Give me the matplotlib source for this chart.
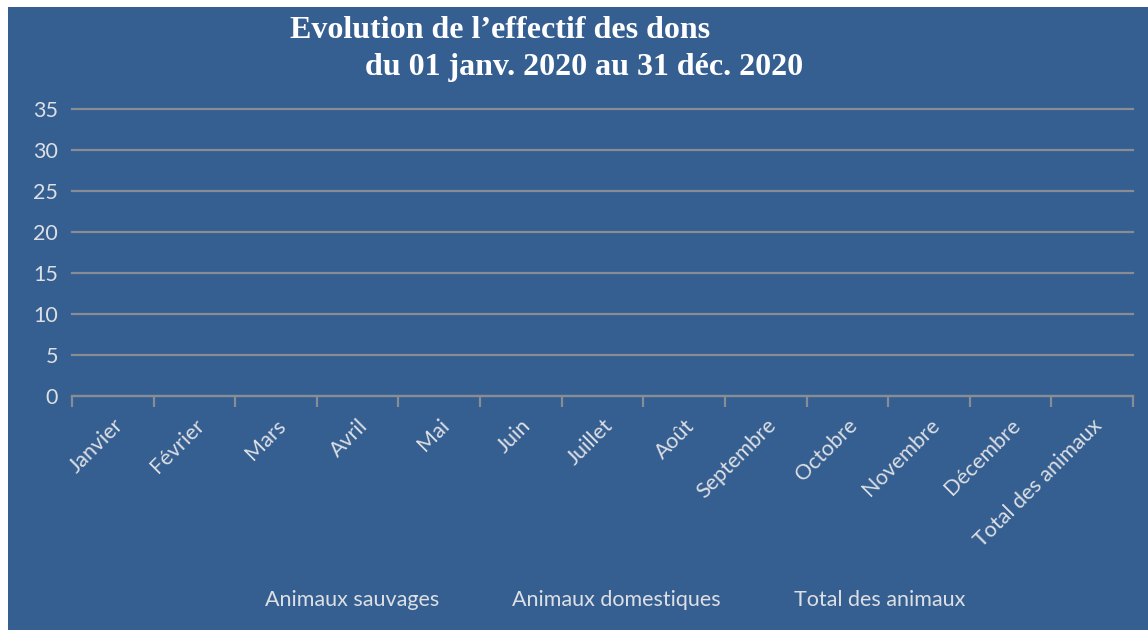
import numpy as np
import matplotlib
matplotlib.use("Agg")
import matplotlib.pyplot as plt
from matplotlib.patches import Rectangle
from matplotlib.lines import Line2D

categories = ["Janvier", "Février", "Mars", "Avril", "Mai", "Juin", "Juillet", "Août",
              "Septembre", "Octobre", "Novembre", "Décembre", "Total des animaux"]
series_names = ["Animaux sauvages", "Animaux domestiques", "Total des animaux"]
# No values are shown on the chart (empty series)
animaux_sauvages = [np.nan] * 13
animaux_domestiques = [np.nan] * 13
total_animaux = [np.nan] * 13
yticks = [0, 5, 10, 15, 20, 25, 30, 35]

BG = "#365F91"
GRID = "#878c95"
TXT = "#dcdfe4"

W, H = 1148, 630
fig = plt.figure(figsize=(W / 100, H / 100), dpi=100)
fig.patch.set_facecolor("white")
fig.add_artist(Rectangle((8 / W, 0), 1 - 8 / W, 1 - 7 / H, transform=fig.transFigure,
                         facecolor=BG, edgecolor="none", zorder=0))

ax = fig.add_axes([72 / W, 1 - 396 / H, (1133 - 72) / W, (396 - 109) / H])
ax.set_facecolor(BG)
x = np.arange(len(categories))
handles = []
for vals, name in zip([animaux_sauvages, animaux_domestiques, total_animaux], series_names):
    ln, = ax.plot(x, vals, label=name)
    handles.append(Line2D([], [], linestyle="none", label=name))

ax.set_xlim(-0.5, len(categories) - 0.5)
ax.set_ylim(0, 35)
ax.set_yticks(yticks)
ax.yaxis.grid(True, color=GRID, linewidth=1.6)
for gl in ax.get_ygridlines():
    gl.set_clip_on(False)
ax.set_axisbelow(True)
for s in ["top", "right", "left"]:
    ax.spines[s].set_visible(False)
ax.spines["bottom"].set_color(GRID)
ax.spines["bottom"].set_linewidth(1.6)
ax.spines["bottom"].set_zorder(5)

font = "Lato"
FS = 15.5
ax.tick_params(axis="y", length=0, pad=10, labelcolor=TXT, labelsize=FS)
for lab in ax.get_yticklabels():
    lab.set_fontfamily(font)
ax.set_xticks(x)
ax.set_xticklabels(categories, rotation=45, ha="right", rotation_mode="anchor",
                   color=TXT, fontsize=FS, fontfamily=font)
ax.tick_params(axis="x", which="major", length=0, pad=14)
ax.set_xticks(np.arange(-0.5, len(categories)), minor=True)
ax.tick_params(axis="x", which="minor", length=8, width=1.6, color=GRID, direction="out")

fig.text(290 / W, 1 - 31 / H, "Evolution de l\u2019effectif des dons", color="white",
         fontsize=23, fontweight="bold", family="Liberation Serif", va="center", ha="left")
fig.text(365 / W, 1 - 68 / H, "du 01 janv. 2020 au 31 déc. 2020", color="white",
         fontsize=23, fontweight="bold", family="Liberation Serif", va="center", ha="left")

leg = fig.legend(handles=handles, loc="center", bbox_to_anchor=(615 / W, 1 - 600 / H),
                 ncol=3, frameon=False, handlelength=0, handletextpad=0,
                 columnspacing=3.4, prop={"family": font, "size": FS})
for t in leg.get_texts():
    t.set_color(TXT)

fig.savefig("out.png", dpi=100)
